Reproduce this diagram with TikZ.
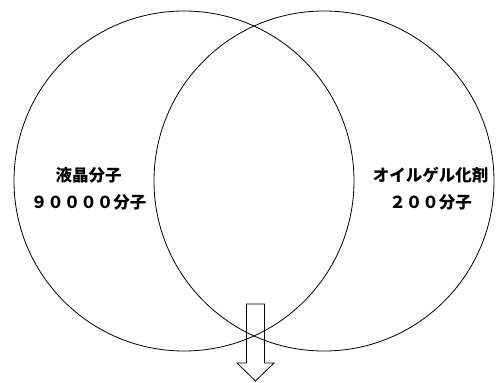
\documentclass[tikz,border=0pt]{standalone}
\usepackage{fontspec}
\newfontfamily\jpfont{Noto Sans CJK JP}
\usetikzlibrary{positioning}

\begin{document}
\begin{tikzpicture}[
  x=1pt, y=-1pt,
  setcircle/.style={draw, circle, line width=0.8pt, minimum size=340pt, inner sep=0pt},
  molnote/.style={align=center, inner sep=0pt, font=\jpfont\bfseries\fontsize{16.5}{27}\selectfont},
  blockarrow/.style={draw, line width=0.8pt, line join=miter}
]
\useasboundingbox (0,0) rectangle (496,383);

% sets
\node[setcircle] (lc) at (184,181) {};
\node[setcircle] (gel) at (324,181) {};

% counts
\node[molnote] (lcnote) at (88.5,189) {液晶分子\\９００００分子};
\node[molnote] (gelnote) at (430.5,189) {オイルゲル化剤\\２００分子};

% outlet arrow
\draw[blockarrow] (246.5,304) -- (264.5,304) -- (264.5,363) -- (274,363)
  -- (255.5,381) -- (237,363) -- (246.5,363) -- cycle;
\end{tikzpicture}
\end{document}
